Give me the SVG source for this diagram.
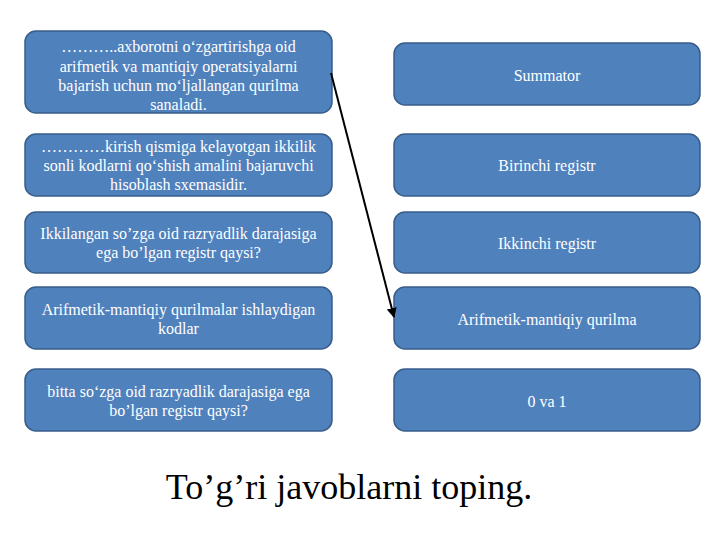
<svg xmlns="http://www.w3.org/2000/svg" width="720" height="540" viewBox="0 0 720 540">
<defs>
<style>
.box{fill:#4F81BD;stroke:#385D8A;stroke-width:1.5}
.t{font-family:"Liberation Serif","Times New Roman",serif;font-size:16px;fill:#FFFFFF;text-anchor:middle}
.title{font-family:"Liberation Serif","Times New Roman",serif;font-size:36px;fill:#000000;text-anchor:middle}
.conn{stroke:#000000;stroke-width:2;fill:none}
</style>
<marker id="ah" viewBox="0 0 10 10" refX="9" refY="5" markerWidth="5" markerHeight="5" orient="auto" markerUnits="strokeWidth">
<path d="M0,0 L10,5 L0,10 z" fill="#000000"/>
</marker>
</defs>
<rect width="720" height="540" fill="#FFFFFF"/>
<g id="q1"><rect class="box" x="25" y="31" width="307" height="82" rx="11"/>
<text class="t"><tspan x="178.5" y="52">………..axborotni o‘zgartirishga oid</tspan><tspan x="178.5" y="71.5">arifmetik va mantiqiy operatsiyalarni</tspan><tspan x="178.5" y="91">bajarish uchun mo‘ljallangan qurilma</tspan><tspan x="178.5" y="110">sanaladi.</tspan></text></g>
<g id="q2"><rect class="box" x="25" y="134" width="307" height="62" rx="11"/>
<text class="t"><tspan x="178.5" y="152">…………kirish qismiga kelayotgan ikkilik</tspan><tspan x="178.5" y="171">sonli kodlarni qo‘shish amalini bajaruvchi</tspan><tspan x="178.5" y="190">hisoblash sxemasidir.</tspan></text></g>
<g id="q3"><rect class="box" x="25" y="212" width="307" height="61" rx="11"/>
<text class="t"><tspan x="178.5" y="239">Ikkilangan so’zga oid razryadlik darajasiga</tspan><tspan x="178.5" y="258">ega bo’lgan registr qaysi?</tspan></text></g>
<g id="q4"><rect class="box" x="25" y="287" width="307" height="62" rx="11"/>
<text class="t"><tspan x="178.5" y="315">Arifmetik-mantiqiy qurilmalar ishlaydigan</tspan><tspan x="178.5" y="334">kodlar</tspan></text></g>
<g id="q5"><rect class="box" x="25" y="369" width="307" height="62" rx="11"/>
<text class="t"><tspan x="178.5" y="397">bitta so‘zga oid razryadlik darajasiga ega</tspan><tspan x="178.5" y="416">bo’lgan registr qaysi?</tspan></text></g>
<g id="a1"><rect class="box" x="394" y="43" width="306" height="62" rx="11"/>
<text class="t" x="547" y="81">Summator</text></g>
<g id="a2"><rect class="box" x="394" y="134" width="306" height="62" rx="11"/>
<text class="t" x="547" y="171">Birinchi registr</text></g>
<g id="a3"><rect class="box" x="394" y="212" width="306" height="61" rx="11"/>
<text class="t" x="547" y="249">Ikkinchi registr</text></g>
<g id="a4"><rect class="box" x="394" y="287" width="306" height="62" rx="11"/>
<text class="t" x="547" y="325">Arifmetik-mantiqiy qurilma</text></g>
<g id="a5"><rect class="box" x="394" y="369" width="306" height="62" rx="11"/>
<text class="t" x="547" y="407">0 va 1</text></g>
<g id="connectors"><line class="conn" x1="331" y1="73" x2="394" y2="317" marker-end="url(#ah)"/></g>
<text class="title" x="349" y="499">To’g’ri javoblarni toping.</text>
</svg>
